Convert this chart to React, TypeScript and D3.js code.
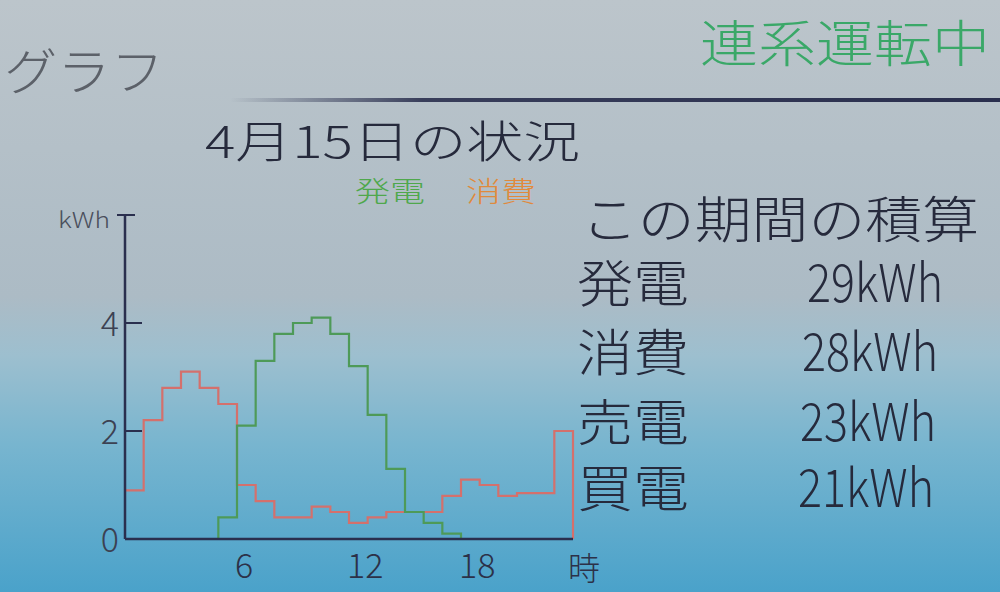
import * as d3 from "d3";

const W = 1000;
const H = 592;

// hourly values, kWh (hour 0..23)
const hours = d3.range(24);
const generation = [0, 0, 0, 0, 0, 0.4, 2.1, 3.3, 3.8, 4.0, 4.1, 3.8, 3.2, 2.3, 1.3, 0.5, 0.3, 0.1, 0, 0, 0, 0, 0, 0];
const consumption = [0.9, 2.2, 2.8, 3.1, 2.8, 2.5, 1.0, 0.7, 0.4, 0.4, 0.6, 0.5, 0.3, 0.4, 0.5, 0.5, 0.5, 0.8, 1.1, 1.0, 0.8, 0.85, 0.85, 2.0];
const yTicks = [0, 2, 4];
const xTicks = [6, 12, 18];
const totalLabels = ["発電", "消費", "売電", "買電"];
const totalValues = ["29kWh", "28kWh", "23kWh", "21kWh"];

const FONT = "'Noto Sans CJK JP', 'Noto Sans', sans-serif";
const INK = "#262a3c";
const AXIS = "#2a2f4e";

export default function App() {
  const x = d3.scaleLinear().domain([0, 24]).range([125, 573]);
  const y = d3.scaleLinear().domain([0, 6]).range([539, 215]);

  const stepLine = d3
    .line<[number, number]>()
    .x((d) => x(d[0]))
    .y((d) => y(d[1]))
    .curve(d3.curveStepAfter);

  const toPts = (vals: number[]): [number, number][] => [
    ...hours.map((h) => [h, vals[h]] as [number, number]),
    [24, vals[23]],
    [24, 0],
  ];

  const rowY = [302, 371, 441, 507];
  const valX = [807, 802, 800, 798];

  return (
    <svg
      width={W}
      height={H}
      style={{ position: "fixed", left: 0, top: 0, display: "block" }}
      fontFamily={FONT}
      fontWeight={300}
    >
      <defs>
        <linearGradient id="bg" x1="0" y1="0" x2="0" y2="1">
          <stop offset="0" stopColor="#bcc5cb" />
          <stop offset="0.5" stopColor="#acbbc5" />
          <stop offset="0.6" stopColor="#9dbfcf" />
          <stop offset="0.75" stopColor="#78b5cf" />
          <stop offset="1" stopColor="#4aa2ca" />
        </linearGradient>
        <linearGradient id="rule" x1="0" y1="0" x2="1" y2="0">
          <stop offset="0" stopColor={AXIS} stopOpacity="0" />
          <stop offset="0.25" stopColor={AXIS} stopOpacity="0.9" />
          <stop offset="1" stopColor={AXIS} />
        </linearGradient>
      </defs>
      <rect width={W} height={H} fill="url(#bg)" />

      {/* header */}
      <text x={4} y={90} fontSize={50} fill="#5c6169" textLength={160} lengthAdjust="spacingAndGlyphs">
        グラフ
      </text>
      <text x={700} y={62} fontSize={50} fill="#3aa868" textLength={290} lengthAdjust="spacingAndGlyphs">
        連系運転中
      </text>
      <rect x={230} y={98} width={770} height={4} fill="url(#rule)" />

      <text x={205} y={158} fontSize={44} fill={INK} textLength={375} lengthAdjust="spacingAndGlyphs">
        4月15日の状況
      </text>
      <text x={355} y={202} fontSize={28} fill="#4fa84c" textLength={70} lengthAdjust="spacingAndGlyphs">
        発電
      </text>
      <text x={466} y={202} fontSize={28} fill="#e08a3c" textLength={70} lengthAdjust="spacingAndGlyphs">
        消費
      </text>

      {/* series */}
      <path d={stepLine(toPts(consumption)) ?? ""} fill="none" stroke="#d4706c" strokeWidth={2.2} />
      <path d={stepLine(toPts(generation)) ?? ""} fill="none" stroke="#4e9a58" strokeWidth={2.2} />

      {/* axes */}
      <text x={58} y={228} fontSize={22} fill="#4a4f5c" textLength={52} lengthAdjust="spacingAndGlyphs">
        kWh
      </text>
      <line x1={x(0)} x2={x(0)} y1={y(6)} y2={y(0)} stroke={AXIS} strokeWidth={2.5} />
      <line x1={x(0)} x2={x(24)} y1={y(0)} y2={y(0)} stroke={AXIS} strokeWidth={2.5} />
      <line x1={x(0) - 8} x2={x(0) + 10} y1={y(6)} y2={y(6)} stroke={AXIS} strokeWidth={2} />
      {yTicks.map((t) => (
        <g key={t}>
          {t > 0 && (
            <line x1={x(0)} x2={x(0) + 17} y1={y(t)} y2={y(t)} stroke={AXIS} strokeWidth={2} />
          )}
          <text x={x(0) - 6} y={y(t) + 13} fontSize={34} fill="#3c4152" textAnchor="end">
            {t}
          </text>
        </g>
      ))}
      {xTicks.map((t) => (
        <text key={t} x={x(t) - 2} y={578} fontSize={34} fill="#2c3148">
          {t}
        </text>
      ))}
      <text x={568} y={580} fontSize={32} fill="#2c3148">
        時
      </text>

      {/* totals */}
      <text x={581} y={238} fontSize={50} fill={INK} textLength={398} lengthAdjust="spacingAndGlyphs">
        この期間の積算
      </text>
      {totalLabels.map((lab, i) => (
        <g key={lab}>
          <text x={577} y={rowY[i]} fontSize={50} fill={INK} textLength={112} lengthAdjust="spacingAndGlyphs">
            {lab}
          </text>
          <text x={valX[i]} y={rowY[i]} fontSize={52} fill={INK} textLength={136} lengthAdjust="spacingAndGlyphs">
            {totalValues[i]}
          </text>
        </g>
      ))}
    </svg>
  );
}
